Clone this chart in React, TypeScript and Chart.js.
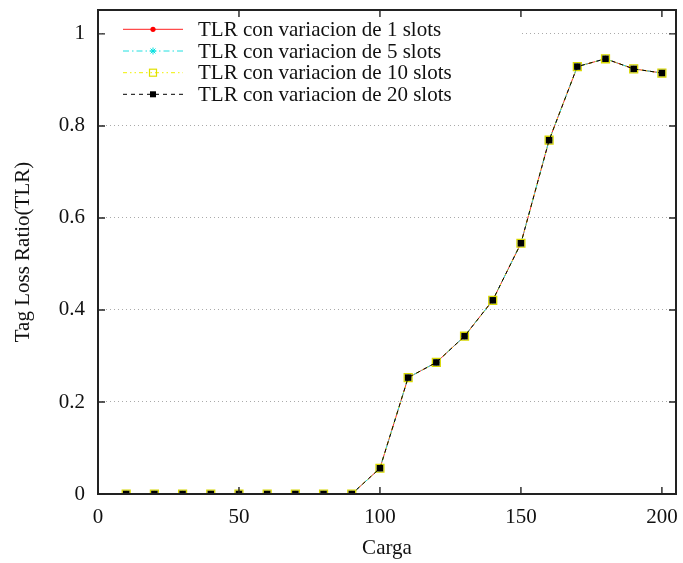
import React, { useEffect, useRef } from "react";
import { Chart, registerables } from "chart.js";

Chart.register(...registerables);

const carga = [10, 20, 30, 40, 50, 60, 70, 80, 90, 100, 110, 120, 130, 140, 150, 160, 170, 180, 190, 200];
const tlr1 = [0, 0, 0, 0, 0, 0, 0, 0, 0, 0.056, 0.253, 0.286, 0.343, 0.421, 0.545, 0.769, 0.929, 0.946, 0.924, 0.915];
const tlr5 = [0, 0, 0, 0, 0, 0, 0, 0, 0, 0.056, 0.253, 0.286, 0.343, 0.421, 0.545, 0.769, 0.929, 0.946, 0.924, 0.915];
const tlr10 = [0, 0, 0, 0, 0, 0, 0, 0, 0, 0.056, 0.253, 0.286, 0.343, 0.421, 0.545, 0.769, 0.929, 0.946, 0.924, 0.915];
const tlr20 = [0, 0, 0, 0, 0, 0, 0, 0, 0, 0.056, 0.253, 0.286, 0.343, 0.421, 0.545, 0.769, 0.929, 0.946, 0.924, 0.915];
const xTicks = [0, 50, 100, 150, 200];
const yTicks = [0, 0.2, 0.4, 0.6, 0.8, 1];
const seriesLabels = [
  "TLR con variacion de 1 slots",
  "TLR con variacion de 5 slots",
  "TLR con variacion de 10 slots",
  "TLR con variacion de 20 slots",
];

const FONT = "'Liberation Serif', 'Times New Roman', serif";

const framePlugin = {
  id: "frameTicksLegend",
  afterDatasetsDraw(chart: any) {
    const { ctx, chartArea: a, scales } = chart;
    const xs = scales.x;
    const ys = scales.y;
    ctx.save();
    // legend box (opaque)
    ctx.fillStyle = "#fff";
    ctx.fillRect(106, 17, 416, 90);
    const rowY = [29.3, 51, 72.7, 94.3];
    const ds = chart.data.datasets;
    for (let i = 0; i < ds.length; i++) {
      const d = ds[i];
      const y = rowY[i];
      ctx.save();
      ctx.strokeStyle = d.borderColor;
      ctx.lineWidth = d.borderWidth;
      ctx.setLineDash(d.borderDash || []);
      ctx.beginPath();
      ctx.moveTo(123, y);
      ctx.lineTo(183, y);
      ctx.stroke();
      ctx.restore();
      ctx.save();
      ctx.setLineDash([]);
      if (i === 0) {
        ctx.fillStyle = "red";
        ctx.beginPath();
        ctx.arc(153, y, 2.6, 0, Math.PI * 2);
        ctx.fill();
      } else if (i === 1) {
        ctx.strokeStyle = "#00e0e0";
        ctx.lineWidth = 1;
        ctx.beginPath();
        const r = 3.5;
        ctx.moveTo(153 - r, y); ctx.lineTo(153 + r, y);
        ctx.moveTo(153, y - r); ctx.lineTo(153, y + r);
        ctx.moveTo(153 - r * 0.7, y - r * 0.7); ctx.lineTo(153 + r * 0.7, y + r * 0.7);
        ctx.moveTo(153 - r * 0.7, y + r * 0.7); ctx.lineTo(153 + r * 0.7, y - r * 0.7);
        ctx.stroke();
      } else if (i === 2) {
        ctx.strokeStyle = "#e0e000";
        ctx.lineWidth = 1.2;
        ctx.strokeRect(153 - 3.5, y - 3.5, 7, 7);
      } else {
        ctx.fillStyle = "#000";
        ctx.fillRect(153 - 3, y - 3, 6, 6);
      }
      ctx.restore();
      ctx.fillStyle = "#111";
      ctx.font = "21px " + FONT;
      ctx.textAlign = "left";
      ctx.textBaseline = "middle";
      ctx.fillText(seriesLabels[i], 198, y + 1);
    }
    // frame
    ctx.strokeStyle = "#222";
    ctx.lineWidth = 2;
    ctx.setLineDash([]);
    ctx.strokeRect(a.left, a.top, a.right - a.left, a.bottom - a.top);
    // inward ticks
    ctx.lineWidth = 1.4;
    ctx.beginPath();
    const tl = 7;
    for (const v of xTicks) {
      const px = xs.getPixelForValue(v);
      ctx.moveTo(px, a.bottom);
      ctx.lineTo(px, a.bottom - tl);
      ctx.moveTo(px, a.top);
      ctx.lineTo(px, a.top + tl);
    }
    for (const v of yTicks) {
      const py = ys.getPixelForValue(v);
      ctx.moveTo(a.left, py);
      ctx.lineTo(a.left + tl, py);
      ctx.moveTo(a.right, py);
      ctx.lineTo(a.right - tl, py);
    }
    ctx.stroke();
    ctx.restore();
  },
};

export default function App() {
  const ref = useRef<HTMLCanvasElement>(null);
  useEffect(() => {
    const canvas = ref.current;
    if (!canvas) return;
    const mk = (vals: number[]) => carga.map((x, i) => ({ x, y: vals[i] }));
    const chart = new Chart(canvas, {
      type: "line",
      data: {
        datasets: [
          {
            label: seriesLabels[0],
            data: mk(tlr1),
            order: 3,
            borderColor: "#ff2020",
            backgroundColor: "red",
            borderWidth: 1,
            pointStyle: "circle",
            pointRadius: 2.6,
            pointBorderWidth: 0,
          },
          {
            label: seriesLabels[1],
            data: mk(tlr5),
            order: 2,
            borderColor: "#20e0e0",
            backgroundColor: "#20e0e0",
            borderWidth: 1,
            borderDash: [6, 3, 1.5, 3],
            pointStyle: "star",
            pointRadius: 3.5,
            pointBorderWidth: 1,
          },
          {
            label: seriesLabels[2],
            data: mk(tlr10),
            order: 1,
            borderColor: "#f0f000",
            backgroundColor: "rgba(0,0,0,0)",
            borderWidth: 1,
            borderDash: [4, 3, 1.5, 3, 1.5, 3],
            pointStyle: "rect",
            pointRadius: 5.6,
            pointBorderWidth: 1.3,
            pointBorderColor: "#d8d800",
          },
          {
            label: seriesLabels[3],
            data: mk(tlr20),
            order: 0,
            borderColor: "#000",
            backgroundColor: "#000",
            borderWidth: 1,
            borderDash: [4, 4],
            pointStyle: "rect",
            pointRadius: 4.6,
            pointBorderWidth: 0,
          },
        ],
      },
      options: {
        responsive: false,
        animation: false,
        layout: { padding: { left: 0, top: 10, right: 7, bottom: 0 } },
        plugins: { legend: { display: false }, tooltip: { enabled: false } },
        elements: { line: { tension: 0 } },
        scales: {
          x: {
            type: "linear",
            min: 0,
            max: 205,
            afterBuildTicks: (s: any) => {
              s.ticks = xTicks.map((v) => ({ value: v }));
            },
            afterFit: (s: any) => {
              s.height = 69;
              s.paddingLeft = 0;
              s.paddingRight = 0;
            },
            grid: { display: false, drawTicks: false },
            border: { display: false },
            ticks: {
              color: "#111",
              padding: 11,
              maxRotation: 0,
              autoSkip: false,
              font: { family: FONT, size: 21 },
              callback: (v: any) => String(v),
            },
            title: {
              display: true,
              text: "Carga",
              color: "#111",
              font: { family: FONT, size: 21 },
              padding: { top: 0, bottom: 2 },
            },
          },
          y: {
            type: "linear",
            min: 0,
            max: 1.052,
            afterBuildTicks: (s: any) => {
              s.ticks = yTicks.map((v) => ({ value: v }));
            },
            afterFit: (s: any) => {
              s.width = 98;
              s.paddingTop = 0;
              s.paddingBottom = 0;
            },
            grid: {
              color: (c: any) => (c.tick && c.tick.value === 0 ? "rgba(0,0,0,0)" : "#aaaaaa"),
              lineWidth: 1,
              drawTicks: false,
            },
            border: { display: false, dash: [1, 3] },
            ticks: {
              color: "#111",
              padding: 13,
              autoSkip: false,
              font: { family: FONT, size: 21 },
              callback: (v: any) => String(Math.round(v * 10) / 10),
            },
            title: {
              display: true,
              text: "Tag Loss Ratio(TLR)",
              color: "#111",
              font: { family: FONT, size: 21 },
              padding: { top: 11, bottom: 0 },
            },
          },
        },
      },
      plugins: [framePlugin],
    } as any);
    return () => chart.destroy();
  }, []);
  return (
    <div style={{ position: "fixed", left: 0, top: 0, width: 683, height: 563, background: "#fff" }}>
      <canvas ref={ref} width={683} height={563} style={{ display: "block" }} />
    </div>
  );
}
